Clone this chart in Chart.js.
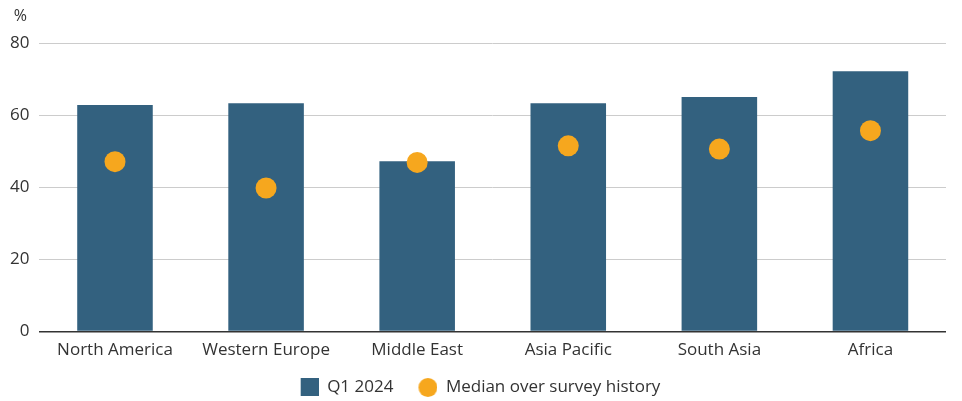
<!DOCTYPE html>
<html>
<head>
<meta charset="utf-8">
<script src="https://cdn.jsdelivr.net/npm/chart.js@4"></script>
<style>
  html, body { margin: 0; padding: 0; background: #fff; }
  #wrap { width: 962px; height: 401px; position: relative; }
</style>
</head>
<body>
<div id="wrap"><canvas id="grafico"></canvas></div>
<script>
/* Regiões x Q1 2024 vs mediana histórica */
const regioes = ["North America", "Western Europe", "Middle East", "Asia Pacific", "South Asia", "Africa"];
const q1_2024 = [62.8, 63.3, 47.2, 63.3, 65.0, 72.2];
const mediana = [47.1, 39.8, 46.9, 51.5, 50.6, 55.7];
const ticksY = [0, 20, 40, 60, 80];

const CORES = { azul: "#33617F", laranja: "#F6A71E", grade: "#CCCCCC", texto: "#333333" };
const FONTE = "'Open Sans', 'Noto Sans', sans-serif";

// ícones da legenda: marca encostada à direita, folga transparente à esquerda
const LARG_ICONE = 33, TAM = 18;
function icone(tipo, cor) {
  const c = document.createElement("canvas");
  c.width = LARG_ICONE; c.height = TAM + 1;
  const g = c.getContext("2d");
  g.fillStyle = cor;
  if (tipo === "rect") g.fillRect(LARG_ICONE - TAM, 0, TAM, TAM);
  else { g.beginPath(); g.arc(LARG_ICONE - TAM / 2 - 0.5, TAM / 2 + 0.5, TAM / 2 + 0.5, 0, Math.PI * 2); g.fill(); }
  return c;
}
const icones = [icone("rect", CORES.azul), icone("circle", CORES.laranja)];

// "%" acima do eixo y
const unidade = {
  id: "unidade",
  afterDraw(chart) {
    const { ctx } = chart;
    ctx.save();
    ctx.font = `16px ${FONTE}`;
    ctx.fillStyle = CORES.texto;
    ctx.textAlign = "right";
    ctx.textBaseline = "middle";
    ctx.fillText("%", 27, 16);
    ctx.restore();
  },
};

new Chart(document.getElementById("grafico"), {
  data: {
    labels: regioes,
    datasets: [
      {
        type: "bar", label: "Q1 2024", data: q1_2024,
        backgroundColor: CORES.azul, barPercentage: 0.5, categoryPercentage: 1, order: 1,
      },
      {
        type: "line", label: "Median over survey history", data: mediana,
        showLine: false, pointRadius: 10.5, pointHoverRadius: 10.5,
        pointBackgroundColor: CORES.laranja, pointBorderWidth: 0, backgroundColor: CORES.laranja,
        borderColor: CORES.laranja, order: 0,
      },
    ],
  },
  options: {
    responsive: true, maintainAspectRatio: false, animation: false,
    layout: { padding: { top: 43, right: 16, left: 0, bottom: -5 } },
    plugins: {
      tooltip: { enabled: false },
      legend: {
        position: "bottom",
        labels: {
          usePointStyle: true, pointStyleWidth: LARG_ICONE, boxHeight: TAM,
          color: CORES.texto, padding: 11,
          font: { family: FONTE, size: 17 },
          generateLabels(chart) {
            return chart.data.datasets.map((d, i) => ({
              text: d.label, fillStyle: i === 0 ? CORES.azul : CORES.laranja,
              strokeStyle: "transparent", lineWidth: 0,
              pointStyle: icones[i], datasetIndex: i, fontColor: CORES.texto,
            }));
          },
        },
      },
    },
    scales: {
      x: {
        grid: { display: false, drawTicks: false }, border: { display: false },
        ticks: { color: CORES.texto, padding: 8, font: { family: FONTE, size: 17 } },
      },
      y: {
        min: 0, max: 80,
        afterBuildTicks: (s) => { s.ticks = ticksY.map((v) => ({ value: v })); },
        border: { display: false },
        grid: {
          color: (c) => (c.tick && c.tick.value === 0 ? "#333333" : CORES.grade),
          lineWidth: (c) => (c.tick && c.tick.value === 0 ? 1.5 : 1),
          tickLength: 0, drawTicks: false,
        },
        ticks: { color: CORES.texto, padding: 10, font: { family: FONTE, size: 17 } },
      },
    },
  },
  plugins: [unidade],
});
</script>
</body>
</html>
